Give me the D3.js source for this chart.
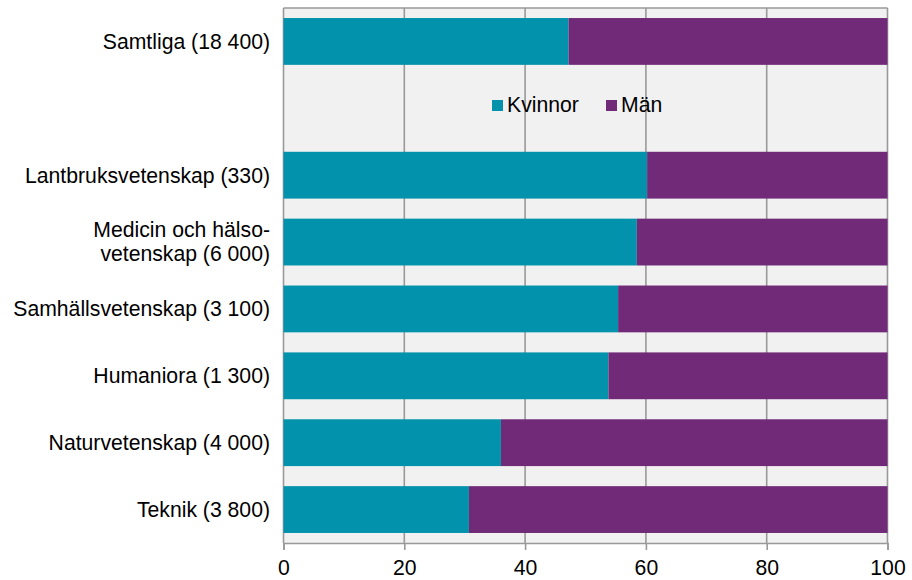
<!DOCTYPE html>
<html><head><meta charset="utf-8">
<script src="https://cdn.jsdelivr.net/npm/d3@7"></script>
<style>body{margin:0;background:#fff;} text{font-family:"Liberation Sans",Arial,sans-serif;}</style>
</head><body>
<svg id="c" width="912" height="580"></svg>
<script>
const categories = [
  ["Samtliga (18 400)"],
  [],
  ["Lantbruksvetenskap (330)"],
  ["Medicin och hälso-", "vetenskap (6 000)"],
  ["Samhällsvetenskap (3 100)"],
  ["Humaniora (1 300)"],
  ["Naturvetenskap (4 000)"],
  ["Teknik (3 800)"]
];
const kvinnor = [47.2, null, 60.2, 58.5, 55.4, 53.8, 36.0, 30.7];
const man = kvinnor.map(v => v == null ? null : 100 - v);
const seriesNames = ["Kvinnor", "Män"];
const colors = ["#0392ab", "#712a78"];
const xTicks = [0, 20, 40, 60, 80, 100];

const FS = 21.2;
const svg = d3.select("#c");
const L = 283.5, R = 887.5, T = 8, B = 543;
const x = d3.scaleLinear().domain([0, 100]).range([L, R]);
const y = d3.scaleBand().domain(d3.range(categories.length)).range([T, B]).paddingInner(0.3).paddingOuter(0.15);

svg.append("rect").attr("x", L).attr("y", T).attr("width", R - L).attr("height", B - T).attr("fill", "#f1f1f1");

svg.append("g").selectAll("line").data(xTicks).join("line")
  .attr("x1", d => x(d)).attr("x2", d => x(d)).attr("y1", T).attr("y2", B)
  .attr("stroke", "#999").attr("stroke-width", 1.6);
svg.append("line").attr("x1", L).attr("x2", R).attr("y1", T).attr("y2", T).attr("stroke", "#999").attr("stroke-width", 1.6);

const data = categories.map((c, i) => ({i, k: kvinnor[i], m: man[i]})).filter(d => d.k != null);
const g = svg.append("g");
g.selectAll("rect.k").data(data).join("rect").attr("class", "k")
  .attr("x", x(0)).attr("y", d => y(d.i)).attr("width", d => x(d.k) - x(0)).attr("height", y.bandwidth())
  .attr("fill", colors[0]);
g.selectAll("rect.m").data(data).join("rect").attr("class", "m")
  .attr("x", d => x(d.k)).attr("y", d => y(d.i)).attr("width", d => x(100) - x(d.k)).attr("height", y.bandwidth())
  .attr("fill", colors[1]);

// x axis
const ax = svg.append("g").attr("transform", `translate(0,${B})`)
  .call(d3.axisBottom(x).tickValues(xTicks).tickSize(7).tickPadding(10));
ax.select(".domain").attr("stroke", "#999").attr("stroke-width", 1.6);
ax.selectAll(".tick line").attr("stroke", "#999").attr("stroke-width", 1.6);
ax.selectAll(".tick text").attr("font-size", FS).attr("fill", "#000").attr("font-family", "Liberation Sans, Arial, sans-serif");

// category labels
const lab = svg.append("g");
categories.forEach((lines, i) => {
  if (!lines.length) return;
  const cy = y(i) + y.bandwidth() / 2;
  const n = lines.length, lh = 24;
  lines.forEach((t, j) => {
    lab.append("text").attr("x", 270).attr("y", cy + (j - (n - 1) / 2) * lh)
      .attr("dy", "0.35em").attr("text-anchor", "end").attr("font-size", FS).attr("fill", "#000").text(t);
  });
});

// legend
const leg = svg.append("g");
const lx = [492, 606];
seriesNames.forEach((s, i) => {
  leg.append("rect").attr("x", lx[i]).attr("y", 100).attr("width", 11).attr("height", 11).attr("fill", colors[i]);
  leg.append("text").attr("x", lx[i] + 15).attr("y", 105).attr("dy", "0.35em").attr("font-size", FS).attr("fill", "#000").text(s);
});
</script>
</body></html>
